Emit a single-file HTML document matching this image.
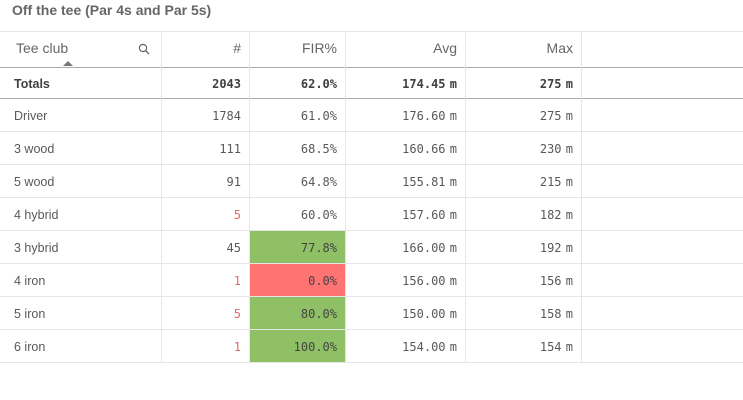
<!DOCTYPE html><html><head><style>
body{margin:0;width:743px;height:400px;background:#fff;font-family:"Liberation Sans",sans-serif;color:#595959;position:relative;overflow:hidden}
.t{position:absolute;left:12px;top:2px;font-size:14px;font-weight:bold;color:#666}
.h{position:absolute;height:1px;background:#e6e6e6;left:0;width:743px}
.v{position:absolute;width:1px;background:#e6e6e6}
.c{position:absolute;height:33px;line-height:33px;font-size:12.5px;white-space:nowrap;margin-top:2px}
.m{font-family:"DejaVu Sans Mono","Liberation Mono",monospace;font-size:12px}
.r{text-align:right}
.b{font-weight:bold;color:#404040}
.hd{font-size:14px;color:#666;margin-top:0}
.u{letter-spacing:-3px}
</style></head><body>
<div class="t">Off the tee (Par 4s and Par 5s)</div>
<div class="h" style="top:31px"></div>
<div class="h" style="top:67px;background:#aaa"></div>
<div class="h" style="top:98px;background:#aaa"></div>
<div class="h" style="top:131px"></div><div class="h" style="top:164px"></div><div class="h" style="top:197px"></div><div class="h" style="top:230px"></div><div class="h" style="top:263px"></div><div class="h" style="top:296px"></div><div class="h" style="top:329px"></div><div class="h" style="top:362px"></div>
<div style="position:absolute;left:250px;top:231px;width:95px;height:32px;background:#8fc065"></div>
<div style="position:absolute;left:250px;top:264px;width:95px;height:32px;background:#ff7373"></div>
<div style="position:absolute;left:250px;top:297px;width:95px;height:32px;background:#8fc065"></div>
<div style="position:absolute;left:250px;top:330px;width:95px;height:32px;background:#8fc065"></div>
<div class="v" style="left:161px;top:31px;height:331px"></div>
<div class="v" style="left:249px;top:31px;height:331px"></div>
<div class="v" style="left:345px;top:31px;height:331px"></div>
<div class="v" style="left:465px;top:31px;height:331px"></div>
<div class="v" style="left:581px;top:31px;height:331px"></div>
<div class="c hd" style="left:16px;top:32px">Tee club</div>
<svg style="position:absolute;left:138px;top:43px" width="12" height="12"><circle cx="5" cy="5" r="3.6" fill="none" stroke="#666" stroke-width="1.2"/><line x1="7.7" y1="7.7" x2="11" y2="11" stroke="#666" stroke-width="1.3"/></svg>
<div style="position:absolute;left:63px;top:61px;width:0;height:0;border-left:5px solid transparent;border-right:5px solid transparent;border-bottom:5px solid #777"></div>
<div class="c hd r" style="left:161px;width:80px;top:32px">#</div>
<div class="c hd r" style="left:249px;width:88px;top:32px">FIR%</div>
<div class="c hd r" style="left:345px;width:112px;top:32px">Avg</div>
<div class="c hd r" style="left:465px;width:108px;top:32px">Max</div>
<div class="c b" style="left:14px;top:66px">Totals</div>
<div class="c m b r" style="left:161px;width:80px;top:66px">2043</div>
<div class="c m b r" style="left:249px;width:88px;top:66px">62.0%</div>
<div class="c m b r" style="left:345px;width:112px;top:66px">174.45<span class="u"> </span> m</div>
<div class="c m b r" style="left:465px;width:108px;top:66px">275<span class="u"> </span> m</div>

<div class="c" style="left:14px;top:98px">Driver</div><div class="c m r" style="left:161px;width:80px;top:98px">1784</div><div class="c m r" style="left:249px;width:88px;top:98px">61.0%</div><div class="c m r" style="left:345px;width:112px;top:98px">176.60<span class="u"> </span> m</div><div class="c m r" style="left:465px;width:108px;top:98px">275<span class="u"> </span> m</div>
<div class="c" style="left:14px;top:131px">3 wood</div><div class="c m r" style="left:161px;width:80px;top:131px">111</div><div class="c m r" style="left:249px;width:88px;top:131px">68.5%</div><div class="c m r" style="left:345px;width:112px;top:131px">160.66<span class="u"> </span> m</div><div class="c m r" style="left:465px;width:108px;top:131px">230<span class="u"> </span> m</div>
<div class="c" style="left:14px;top:164px">5 wood</div><div class="c m r" style="left:161px;width:80px;top:164px">91</div><div class="c m r" style="left:249px;width:88px;top:164px">64.8%</div><div class="c m r" style="left:345px;width:112px;top:164px">155.81<span class="u"> </span> m</div><div class="c m r" style="left:465px;width:108px;top:164px">215<span class="u"> </span> m</div>
<div class="c" style="left:14px;top:197px">4 hybrid</div><div class="c m r" style="left:161px;width:80px;top:197px;color:#e06b6b">5</div><div class="c m r" style="left:249px;width:88px;top:197px">60.0%</div><div class="c m r" style="left:345px;width:112px;top:197px">157.60<span class="u"> </span> m</div><div class="c m r" style="left:465px;width:108px;top:197px">182<span class="u"> </span> m</div>
<div class="c" style="left:14px;top:230px">3 hybrid</div><div class="c m r" style="left:161px;width:80px;top:230px">45</div><div class="c m r" style="left:249px;width:88px;top:230px;color:#444">77.8%</div><div class="c m r" style="left:345px;width:112px;top:230px">166.00<span class="u"> </span> m</div><div class="c m r" style="left:465px;width:108px;top:230px">192<span class="u"> </span> m</div>
<div class="c" style="left:14px;top:263px">4 iron</div><div class="c m r" style="left:161px;width:80px;top:263px;color:#e06b6b">1</div><div class="c m r" style="left:249px;width:88px;top:263px;color:#444">0.0%</div><div class="c m r" style="left:345px;width:112px;top:263px">156.00<span class="u"> </span> m</div><div class="c m r" style="left:465px;width:108px;top:263px">156<span class="u"> </span> m</div>
<div class="c" style="left:14px;top:296px">5 iron</div><div class="c m r" style="left:161px;width:80px;top:296px;color:#e06b6b">5</div><div class="c m r" style="left:249px;width:88px;top:296px;color:#444">80.0%</div><div class="c m r" style="left:345px;width:112px;top:296px">150.00<span class="u"> </span> m</div><div class="c m r" style="left:465px;width:108px;top:296px">158<span class="u"> </span> m</div>
<div class="c" style="left:14px;top:329px">6 iron</div><div class="c m r" style="left:161px;width:80px;top:329px;color:#e06b6b">1</div><div class="c m r" style="left:249px;width:88px;top:329px;color:#444">100.0%</div><div class="c m r" style="left:345px;width:112px;top:329px">154.00<span class="u"> </span> m</div><div class="c m r" style="left:465px;width:108px;top:329px">154<span class="u"> </span> m</div>
</body></html>
